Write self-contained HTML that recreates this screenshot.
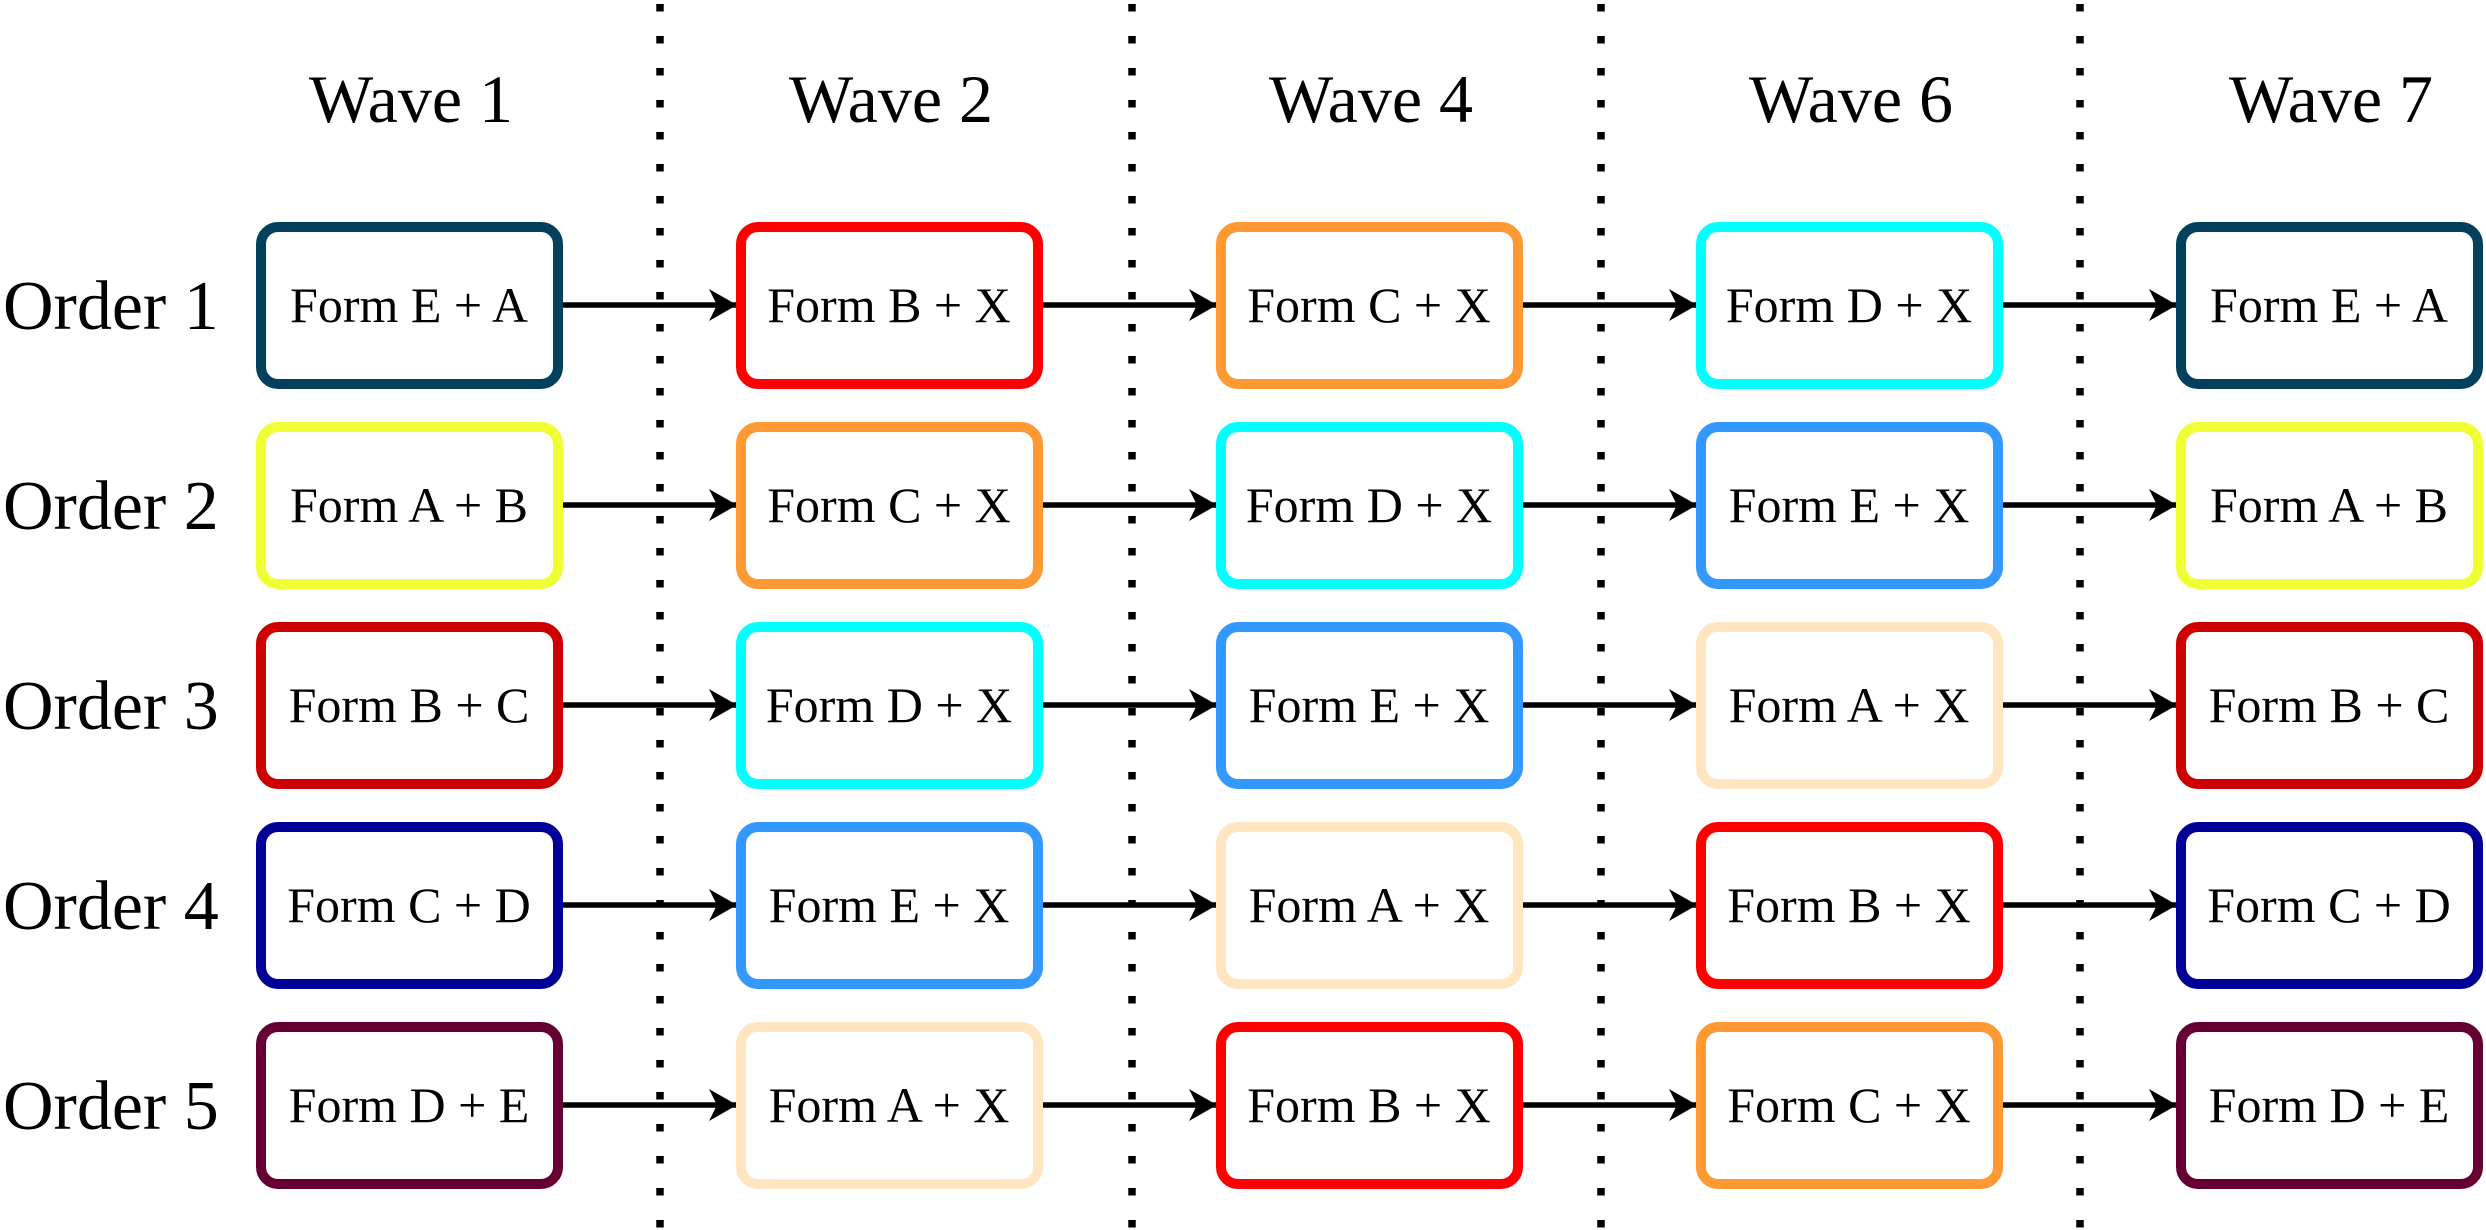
<!DOCTYPE html>
<html><head><meta charset="utf-8"><style>html,body{margin:0;padding:0;background:#fff;}svg{display:block;}text{font-family:"Liberation Serif","Times New Roman",serif;}</style></head>
<body>
<svg width="2486" height="1230" viewBox="0 0 2486 1230" xmlns="http://www.w3.org/2000/svg">
<defs>
<marker id="ah" markerUnits="userSpaceOnUse" markerWidth="30" markerHeight="32" refX="28" refY="16" orient="auto">
<path d="M0,0 L28,16 L0,32 L8,16 Z" fill="#000"/>
</marker>
</defs>
<g stroke="#000" stroke-width="7.5" stroke-dasharray="7.5 24.5">
<line x1="660" y1="4" x2="660" y2="1230"/>
<line x1="1132" y1="4" x2="1132" y2="1230"/>
<line x1="1601" y1="4" x2="1601" y2="1230"/>
<line x1="2080" y1="4" x2="2080" y2="1230"/>
</g>
<g font-size="68" text-anchor="middle">
<text x="411" y="122">Wave 1</text>
<text x="891" y="122">Wave 2</text>
<text x="1371" y="122">Wave 4</text>
<text x="1851" y="122">Wave 6</text>
<text x="2331" y="122">Wave 7</text>
</g>
<g font-size="70">
<text x="3" y="329">Order 1</text>
<text x="3" y="529">Order 2</text>
<text x="3" y="729">Order 3</text>
<text x="3" y="929">Order 4</text>
<text x="3" y="1129">Order 5</text>
</g>
<g stroke="#000" stroke-width="5.5" marker-end="url(#ah)">
<line x1="563" y1="305" x2="737" y2="305"/><line x1="1043" y1="305" x2="1217" y2="305"/><line x1="1523" y1="305" x2="1697" y2="305"/><line x1="2003" y1="305" x2="2177" y2="305"/>
<line x1="563" y1="505" x2="737" y2="505"/><line x1="1043" y1="505" x2="1217" y2="505"/><line x1="1523" y1="505" x2="1697" y2="505"/><line x1="2003" y1="505" x2="2177" y2="505"/>
<line x1="563" y1="705" x2="737" y2="705"/><line x1="1043" y1="705" x2="1217" y2="705"/><line x1="1523" y1="705" x2="1697" y2="705"/><line x1="2003" y1="705" x2="2177" y2="705"/>
<line x1="563" y1="905" x2="737" y2="905"/><line x1="1043" y1="905" x2="1217" y2="905"/><line x1="1523" y1="905" x2="1697" y2="905"/><line x1="2003" y1="905" x2="2177" y2="905"/>
<line x1="563" y1="1105" x2="737" y2="1105"/><line x1="1043" y1="1105" x2="1217" y2="1105"/><line x1="1523" y1="1105" x2="1697" y2="1105"/><line x1="2003" y1="1105" x2="2177" y2="1105"/>
</g>
<g fill="#fff" stroke-width="10">
<rect x="261" y="227" width="297" height="157" rx="17" stroke="#02405C"/>
<rect x="741" y="227" width="297" height="157" rx="17" stroke="#FF0000"/>
<rect x="1221" y="227" width="297" height="157" rx="17" stroke="#FF9933"/>
<rect x="1701" y="227" width="297" height="157" rx="17" stroke="#00FFFF"/>
<rect x="2181" y="227" width="297" height="157" rx="17" stroke="#02405C"/>

<rect x="261" y="427" width="297" height="157" rx="17" stroke="#EEFF33"/>
<rect x="741" y="427" width="297" height="157" rx="17" stroke="#FF9933"/>
<rect x="1221" y="427" width="297" height="157" rx="17" stroke="#00FFFF"/>
<rect x="1701" y="427" width="297" height="157" rx="17" stroke="#3399FF"/>
<rect x="2181" y="427" width="297" height="157" rx="17" stroke="#EEFF33"/>

<rect x="261" y="627" width="297" height="157" rx="17" stroke="#CC0000"/>
<rect x="741" y="627" width="297" height="157" rx="17" stroke="#00FFFF"/>
<rect x="1221" y="627" width="297" height="157" rx="17" stroke="#3399FF"/>
<rect x="1701" y="627" width="297" height="157" rx="17" stroke="#FFE6C0"/>
<rect x="2181" y="627" width="297" height="157" rx="17" stroke="#CC0000"/>

<rect x="261" y="827" width="297" height="157" rx="17" stroke="#000099"/>
<rect x="741" y="827" width="297" height="157" rx="17" stroke="#3399FF"/>
<rect x="1221" y="827" width="297" height="157" rx="17" stroke="#FFE6C0"/>
<rect x="1701" y="827" width="297" height="157" rx="17" stroke="#FF0000"/>
<rect x="2181" y="827" width="297" height="157" rx="17" stroke="#000099"/>

<rect x="261" y="1027" width="297" height="157" rx="17" stroke="#660033"/>
<rect x="741" y="1027" width="297" height="157" rx="17" stroke="#FFE6C0"/>
<rect x="1221" y="1027" width="297" height="157" rx="17" stroke="#FF0000"/>
<rect x="1701" y="1027" width="297" height="157" rx="17" stroke="#FF9933"/>
<rect x="2181" y="1027" width="297" height="157" rx="17" stroke="#660033"/>
</g>
<g font-size="50" text-anchor="middle">
<text x="409" y="322">Form E + A</text><text x="889" y="322">Form B + X</text><text x="1369" y="322">Form C + X</text><text x="1849" y="322">Form D + X</text><text x="2329" y="322">Form E + A</text>
<text x="409" y="522">Form A + B</text><text x="889" y="522">Form C + X</text><text x="1369" y="522">Form D + X</text><text x="1849" y="522">Form E + X</text><text x="2329" y="522">Form A + B</text>
<text x="409" y="722">Form B + C</text><text x="889" y="722">Form D + X</text><text x="1369" y="722">Form E + X</text><text x="1849" y="722">Form A + X</text><text x="2329" y="722">Form B + C</text>
<text x="409" y="922">Form C + D</text><text x="889" y="922">Form E + X</text><text x="1369" y="922">Form A + X</text><text x="1849" y="922">Form B + X</text><text x="2329" y="922">Form C + D</text>
<text x="409" y="1122">Form D + E</text><text x="889" y="1122">Form A + X</text><text x="1369" y="1122">Form B + X</text><text x="1849" y="1122">Form C + X</text><text x="2329" y="1122">Form D + E</text>
</g>
</svg>
</body></html>
